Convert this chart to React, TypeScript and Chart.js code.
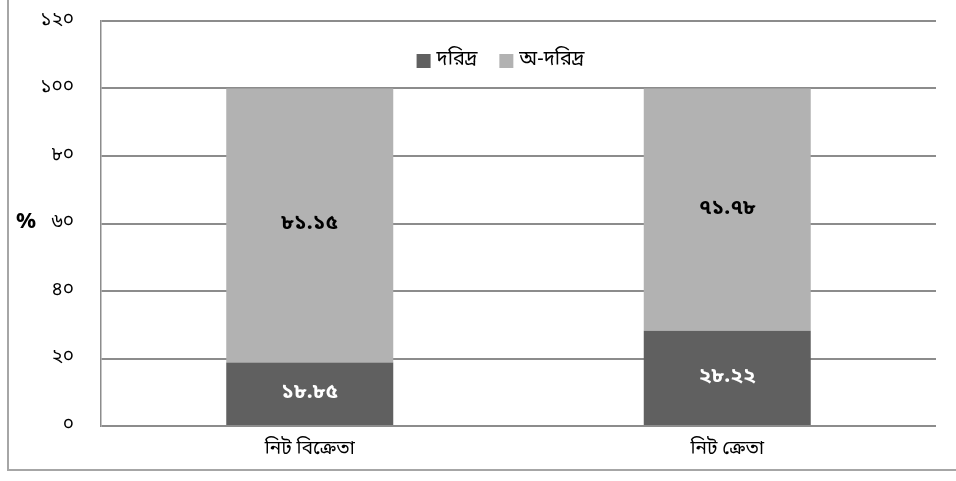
import React, { useEffect, useRef } from "react";
import { Chart, registerables } from "chart.js";

Chart.register(...registerables);

const categories = ["নিট বিক্রেতা", "নিট ক্রেতা"];
const seriesNames = ["দরিদ্র", "অ-দরিদ্র"];
const poorValues = [18.85, 28.22];
const nonPoorValues = [81.15, 71.78];
const yTickLabels = ["০", "২০", "৪০", "৬০", "৮০", "১০০", "১২০"];
const yAxisTitle = "%";

const DARK = "#606060";
const LIGHT = "#b2b2b2";
const FONT = "'Noto Sans Bengali', 'Noto Serif Bengali', 'Lohit Bengali', 'Noto Sans', sans-serif";

const bnDigits = ["০", "১", "২", "৩", "৪", "৫", "৬", "৭", "৮", "৯"];
const toBengali = (s: string) => s.replace(/[0-9]/g, (d) => bnDigits[Number(d)]);

const decorPlugin = {
  id: "decor",
  afterDraw(chart: any) {
    const ctx = chart.ctx;
    const area = chart.chartArea;
    ctx.save();
    // outer frame
    ctx.strokeStyle = "#a6a6a6";
    ctx.lineWidth = 2;
    ctx.beginPath();
    ctx.moveTo(8, 0);
    ctx.lineTo(8, 470);
    ctx.lineTo(956, 470);
    ctx.stroke();

    // axis title, drawn upright
    ctx.fillStyle = "#000";
    ctx.font = `bold 22px ${FONT}`;
    ctx.textAlign = "center";
    ctx.textBaseline = "middle";
    ctx.fillText(yAxisTitle, 26, (area.top + area.bottom) / 2);

    // value labels centred in each segment
    chart.data.datasets.forEach((ds: any, di: number) => {
      const meta = chart.getDatasetMeta(di);
      meta.data.forEach((bar: any, i: number) => {
        const v = ds.data[i];
        const yc = (bar.y + bar.base) / 2;
        ctx.fillStyle = di === 0 ? "#ffffff" : "#000000";
        ctx.font = `bold 21px ${FONT}`;
        ctx.textAlign = "center";
        ctx.textBaseline = "middle";
        ctx.fillText(toBengali(v.toFixed(2)), bar.x, yc);
      });
    });

    // legend inside the plot area
    ctx.font = `20px ${FONT}`;
    ctx.textBaseline = "middle";
    ctx.textAlign = "left";
    const box = 14;
    const gap = 6;
    const spacing = 22;
    const widths = chart.data.datasets.map((ds: any) => box + gap + ctx.measureText(ds.label).width);
    const total = widths.reduce((a: number, b: number) => a + b, 0) + spacing * (widths.length - 1);
    let x = (area.left + area.right) / 2 - 18 - total / 2;
    const y = 61;
    chart.data.datasets.forEach((ds: any, di: number) => {
      ctx.fillStyle = ds.backgroundColor;
      ctx.fillRect(x, y - box / 2, box, box);
      ctx.fillStyle = "#000";
      ctx.fillText(ds.label, x + box + gap, y);
      x += widths[di] + spacing;
    });
    ctx.restore();
  },
};

export default function App() {
  const ref = useRef<HTMLCanvasElement>(null);
  useEffect(() => {
    document.body.style.margin = "0";
    const chart = new Chart(ref.current!, {
      type: "bar",
      data: {
        labels: categories,
        datasets: [
          { label: seriesNames[0], data: poorValues, backgroundColor: DARK, barPercentage: 0.8, categoryPercentage: 0.5 },
          { label: seriesNames[1], data: nonPoorValues, backgroundColor: LIGHT, barPercentage: 0.8, categoryPercentage: 0.5 },
        ],
      },
      options: {
        responsive: false,
        animation: false,
        layout: { padding: { top: 21, right: 20, bottom: 0, left: 0 } },
        plugins: { legend: { display: false }, tooltip: { enabled: false } },
        scales: {
          x: {
            stacked: true,
            grid: { display: false, drawTicks: false },
            border: { display: false },
            ticks: { color: "#000", font: { family: FONT, size: 19 }, padding: 13 },
            afterFit: (s: any) => { s.height = 55; s.paddingLeft = 0; s.paddingRight = 0; },
          },
          y: {
            stacked: true,
            min: 0,
            max: 120,
            ticks: {
              stepSize: 20,
              color: "#000",
              font: { family: FONT, size: 19 },
              padding: 27,
              callback: (_v: any, i: number) => yTickLabels[i],
            },
            grid: { color: "#8c8c8c", lineWidth: 2, drawTicks: false },
            border: { display: true, color: "#8c8c8c", width: 1.5 },
            afterFit: (s: any) => { s.width = 101; s.paddingTop = 0; s.paddingBottom = 0; },
          },
        },
      },
      plugins: [decorPlugin],
    });
    return () => chart.destroy();
  }, []);
  return <canvas ref={ref} width={956} height={481} style={{ display: "block" }} />;
}
